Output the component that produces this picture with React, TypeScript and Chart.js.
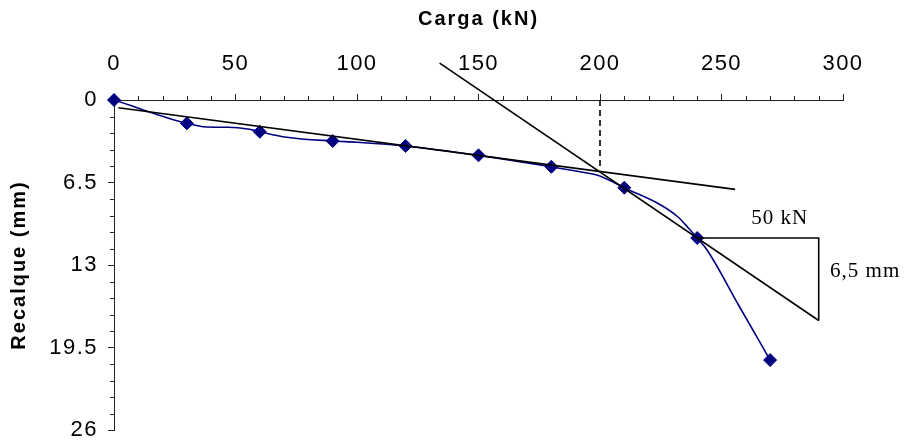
import React, { useEffect, useRef } from "react";
import { Chart, registerables } from "chart.js";

Chart.register(...registerables);

// Load test readings: marked points
const LOADS = [0, 30, 60, 90, 120, 150, 180, 210, 240, 270];
const SETTLEMENTS = [0, 1.84, 2.5, 3.23, 3.62, 4.36, 5.26, 6.91, 10.87, 20.49];

// Full smoothed curve readings
const CURVE_LOADS = [0, 30, 38, 47, 55, 60, 71, 90, 100, 120, 150, 180, 190, 199, 205, 210, 225, 232, 236, 240, 244, 257, 270];
const CURVE_SETTLEMENTS = [0, 1.84, 2.13, 2.15, 2.28, 2.5, 2.93, 3.23, 3.33, 3.62, 4.36, 5.26, 5.6, 5.93, 6.42, 6.91, 8.27, 9.2, 10.0, 10.87, 11.8, 16.15, 20.49];

// Construction lines (load kN, settlement mm)
const INITIAL_TANGENT_LOADS = [1.8, 255.6];
const INITIAL_TANGENT_SETTLEMENTS = [0.61, 7.04];
const FINAL_TANGENT_LOADS = [134, 290];
const FINAL_TANGENT_SETTLEMENTS = [-2.91, 17.37];
const TRIANGLE_LOADS = [240, 290, 290];
const TRIANGLE_SETTLEMENTS = [10.87, 10.87, 17.37];
const FAILURE_LOADS = [200, 200];
const FAILURE_SETTLEMENTS = [0, 5.4];

// Axis ticks
const X_TICKS = [0, 50, 100, 150, 200, 250, 300];
const Y_TICKS = [0, 6.5, 13, 19.5, 26];
const X_MINOR_STEP = 10;
const Y_MINOR_STEP = 1.3;

// Triangle labels
const LOAD_STEP_LABEL = "50 kN";
const SETTLEMENT_STEP_LABEL = "6,5 mm";
const LOAD_STEP_LABEL_AT = [274, 9.3];
const SETTLEMENT_STEP_LABEL_AT = [294.7, 13.53];

const X_TITLE = "Carga (kN)";
const Y_TITLE = "Recalque (mm)";

const NAVY = "#000080";
const SANS = "'Liberation Sans', Arial, Helvetica, sans-serif";
const SERIF = "'Liberation Serif', 'Times New Roman', serif";

const zip = (xs: number[], ys: number[]) => xs.map((x, i) => ({ x, y: ys[i] }));

const decorations = {
  id: "decorations",
  beforeDraw(chart: any) {
    chart.ctx.letterSpacing = "1.5px";
  },
  afterDraw(chart: any) {
    const { ctx, chartArea } = chart;
    const xs = chart.scales.x;
    const ys = chart.scales.y;
    ctx.save();
    ctx.letterSpacing = "0px";
    // minor tick marks
    ctx.strokeStyle = "#222";
    ctx.lineWidth = 1;
    ctx.beginPath();
    for (let k = 0; k * X_MINOR_STEP <= 300; k++) {
      if (k % 5 === 0) continue;
      const px = Math.round(xs.getPixelForValue(k * X_MINOR_STEP)) + 0.5;
      ctx.moveTo(px, chartArea.top);
      ctx.lineTo(px, chartArea.top - 4);
    }
    for (let k = 0; k * Y_MINOR_STEP <= 26.001; k++) {
      if (k % 5 === 0) continue;
      const py = Math.round(ys.getPixelForValue(k * Y_MINOR_STEP)) + 0.5;
      ctx.moveTo(chartArea.left, py);
      ctx.lineTo(chartArea.left - 4, py);
    }
    ctx.stroke();

    // axis titles
    ctx.fillStyle = "#000";
    ctx.font = `bold 20px ${SANS}`;
    ctx.letterSpacing = "2px";
    ctx.textAlign = "center";
    ctx.textBaseline = "middle";
    ctx.fillText(X_TITLE, (chartArea.left + chartArea.right) / 2, 19);
    ctx.save();
    ctx.translate(19, (chartArea.top + chartArea.bottom) / 2);
    ctx.rotate(-Math.PI / 2);
    ctx.fillText(Y_TITLE, 0, 0);
    ctx.restore();

    // triangle labels
    ctx.font = `21px ${SERIF}`;
    ctx.letterSpacing = "1px";
    ctx.textAlign = "center";
    ctx.fillText(
      LOAD_STEP_LABEL,
      xs.getPixelForValue(LOAD_STEP_LABEL_AT[0]),
      ys.getPixelForValue(LOAD_STEP_LABEL_AT[1])
    );
    ctx.textAlign = "left";
    ctx.fillText(
      SETTLEMENT_STEP_LABEL,
      xs.getPixelForValue(SETTLEMENT_STEP_LABEL_AT[0]),
      ys.getPixelForValue(SETTLEMENT_STEP_LABEL_AT[1])
    );
    ctx.restore();
  },
};

export default function App() {
  const canvasRef = useRef<HTMLCanvasElement | null>(null);

  useEffect(() => {
    const canvas = canvasRef.current;
    if (!canvas) return;
    const black = {
      type: "line",
      borderColor: "#000",
      borderWidth: 1.6,
      pointRadius: 0,
      fill: false,
      tension: 0,
      order: 0,
    };
    const chart = new Chart(canvas, {
      type: "line",
      data: {
        datasets: [
          { ...black, data: zip(INITIAL_TANGENT_LOADS, INITIAL_TANGENT_SETTLEMENTS) },
          { ...black, data: zip(FINAL_TANGENT_LOADS, FINAL_TANGENT_SETTLEMENTS), clip: false },
          { ...black, data: zip(TRIANGLE_LOADS, TRIANGLE_SETTLEMENTS) },
          { ...black, data: zip(FAILURE_LOADS, FAILURE_SETTLEMENTS), borderDash: [6, 4] },
          {
            type: "line",
            data: zip(LOADS, SETTLEMENTS),
            showLine: false,
            pointStyle: "rectRot",
            pointRadius: 6.5,
            pointBackgroundColor: NAVY,
            pointBorderColor: NAVY,
            pointBorderWidth: 1,
            order: 1,
            clip: false,
          },
          {
            type: "line",
            data: zip(CURVE_LOADS, CURVE_SETTLEMENTS),
            borderColor: NAVY,
            borderWidth: 1.6,
            pointRadius: 0,
            cubicInterpolationMode: "monotone",
            fill: false,
            order: 2,
          },
        ] as any,
      },
      plugins: [decorations],
      options: {
        animation: false,
        responsive: false,
        devicePixelRatio: 1,
        layout: { padding: { top: 0, left: 0, right: 62, bottom: 11 } },
        plugins: {
          legend: { display: false },
          tooltip: { enabled: false },
          title: { display: false },
        },
        scales: {
          x: {
            type: "linear",
            position: "top",
            min: 0,
            max: 300,
            afterBuildTicks: (s: any) => {
              s.ticks = X_TICKS.map((v) => ({ value: v }));
            },
            afterFit: (s: any) => {
              s.height = 100;
              s.paddingLeft = 0;
              s.paddingRight = 0;
            },
            ticks: {
              color: "#000",
              font: { family: SANS, size: 22 },
              padding: 17,
              maxRotation: 0,
              autoSkip: false,
              callback: (v: any) => String(v),
            },
            grid: {
              drawOnChartArea: false,
              drawTicks: true,
              tickLength: 6,
              color: "#222",
              lineWidth: 1,
            },
            border: { display: true, color: "#222", width: 1 },
          },
          y: {
            type: "linear",
            reverse: true,
            min: 0,
            max: 26,
            afterBuildTicks: (s: any) => {
              s.ticks = Y_TICKS.map((v) => ({ value: v }));
            },
            afterFit: (s: any) => {
              s.width = 114;
              s.paddingTop = 0;
              s.paddingBottom = 0;
            },
            ticks: {
              color: "#000",
              font: { family: SANS, size: 22 },
              padding: 10,
              autoSkip: false,
              callback: (v: any) => String(Math.round(Number(v) * 10) / 10),
            },
            grid: {
              drawOnChartArea: false,
              drawTicks: true,
              tickLength: 6,
              color: "#222",
              lineWidth: 1,
            },
            border: { display: true, color: "#222", width: 1 },
          },
        },
      } as any,
    });
    return () => chart.destroy();
  }, []);

  return (
    <div style={{ position: "fixed", left: 0, top: 0, width: 905, height: 441, background: "#fff" }}>
      <canvas ref={canvasRef} width={905} height={441} style={{ width: 905, height: 441, display: "block" }} />
    </div>
  );
}
